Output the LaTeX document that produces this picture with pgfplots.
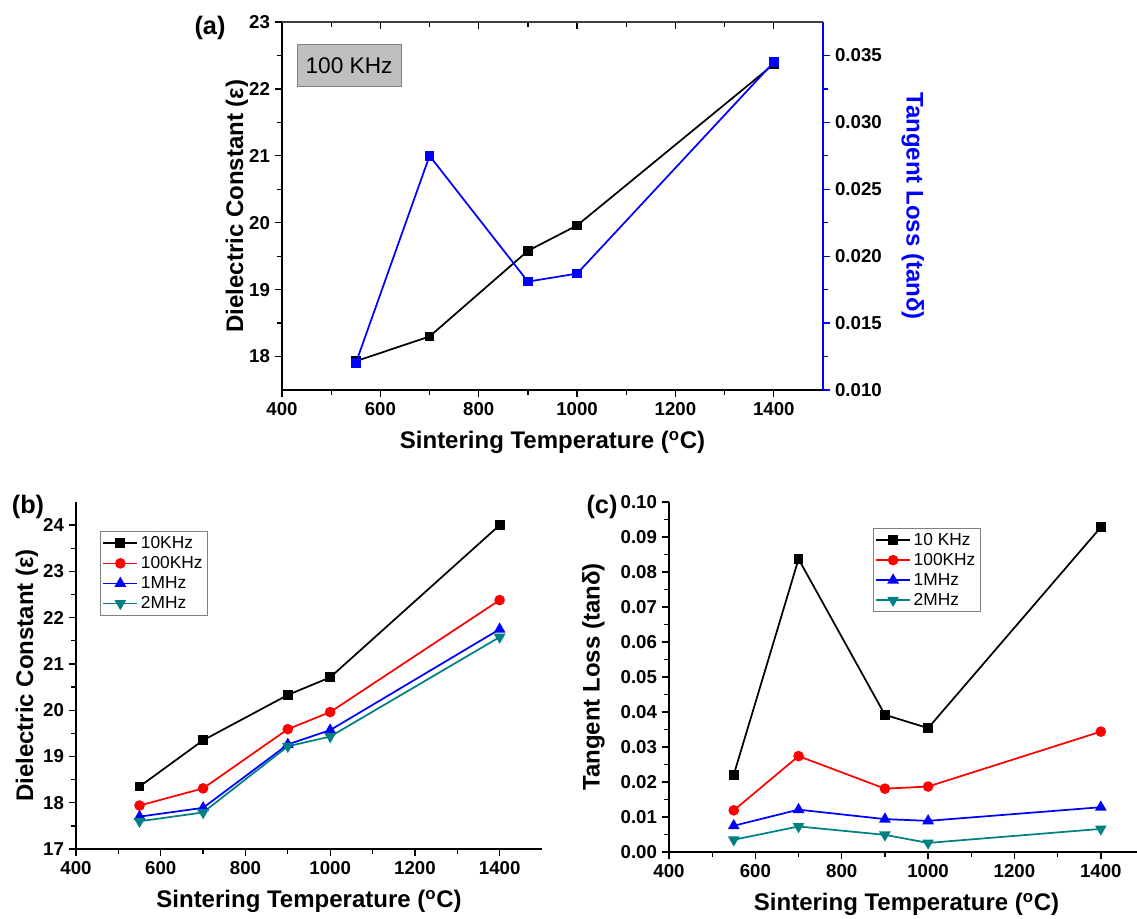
\documentclass[border=0pt]{standalone}
\usepackage{fontspec}
\setmainfont{Liberation Sans}
\usepackage{pgfplots}
\pgfplotsset{compat=1.18}
\definecolor{tealc}{RGB}{0,128,128}
\pgfplotsset{
  base/.style={
    scale only axis,
    xmin=400, xmax=1500,
    xtick={400,600,...,1400},
    minor x tick num=1,
    tick align=outside,
    /pgf/number format/assume math mode=true,
    /pgf/number format/set thousands separator={},
    ticklabel style={font=\fontsize{14}{14}\selectfont\bfseries},
    label style={font=\fontsize{18}{18}\selectfont\bfseries},
    xlabel shift=5pt,
    major tick length=5.5pt, minor tick length=3.5pt,
    every tick/.style={line width=1pt},
    axis line style={line width=1.2pt},
    every axis plot/.append style={line width=1.3pt},
    xlabel={Sintering Temperature (\textsuperscript{o}C)},
    legend style={draw=gray, line width=0.6pt, font=\fontsize{13}{14}\selectfont,
      inner sep=1.5pt, row sep=0.5pt, cells={anchor=west}, fill=white},
    legend image code/.code={
      \draw[mark repeat=2,mark phase=2] plot coordinates {(0cm,0cm) (0.45cm,0cm) (0.9cm,0cm)};
    },
  }
}
\begin{document}
\begin{tikzpicture}
% ---------------- (a) ----------------
\begin{axis}[base,
  at={(211.5pt,396pt)}, anchor=south west,
  width=405.75pt, height=276pt,
  axis x line*=bottom, axis y line*=left,
  ymin=17.5, ymax=23, ytick={18,19,20,21,22,23}, minor y tick num=1,
  ylabel={Dielectric Constant (ε)}, ylabel shift=-6pt,
]
\addplot[black, mark=square*, mark size=3pt] coordinates {
 (550,17.93) (700,18.30) (900,19.58) (1000,19.96) (1400,22.37)};
\node[draw=gray, fill=black!25, minimum width=78pt, minimum height=31pt,
  font=\fontsize{17}{17}\selectfont] at (rel axis cs:0.124,0.882) {100 KHz};
\end{axis}
\begin{axis}[base,
  at={(211.5pt,396pt)}, anchor=south west,
  width=405.75pt, height=276pt,
  axis x line=none, axis y line*=right,
  ymin=0.010, ymax=0.0375,
  ytick={0.010,0.015,0.020,0.025,0.030,0.035}, minor y tick num=1,
  yticklabel style={/pgf/number format/fixed, /pgf/number format/fixed zerofill, /pgf/number format/precision=3},
  scaled y ticks=false,
  y axis line style={blue, line width=1.2pt},
  ytick style={blue},
  ylabel={Tangent Loss (tanδ)}, ylabel shift=8pt,
  ylabel style={blue, rotate=180},
]
\addplot[blue, mark=square*, mark size=3pt] coordinates {
 (550,0.0120) (700,0.0275) (900,0.0181) (1000,0.0187) (1400,0.0345)};
\end{axis}
\begin{axis}[base,
  at={(211.5pt,396pt)}, anchor=south west,
  width=405.75pt, height=276pt,
  axis x line*=top, axis y line=none, tick align=inside,
  xticklabels={}, xlabel={}, ymin=0, ymax=1,
  axis line style={line width=1.2pt, black!75},
]
\end{axis}
% ---------------- (b) ----------------
\begin{axis}[base,
  at={(57pt,51.75pt)}, anchor=south west,
  width=349.5pt, height=260.25pt,
  axis lines*=left,
  ymin=17, ymax=24.5, ytick={17,18,...,24}, minor y tick num=1,
  ylabel={Dielectric Constant (ε)}, ylabel shift=-3pt,
  legend style={at={(0.0515,0.916)}, anchor=north west},
]
\addplot[black, mark=square*, mark size=3pt] coordinates {
 (550,18.35) (700,19.35) (900,20.33) (1000,20.71) (1400,24.00)};
\addlegendentry{10KHz}
\addplot[red, mark=*, mark size=3.3pt] coordinates {
 (550,17.94) (700,18.31) (900,19.59) (1000,19.96) (1400,22.38)};
\addlegendentry{100KHz}
\addplot[blue, mark=triangle*, mark size=3.8pt] coordinates {
 (550,17.70) (700,17.89) (900,19.26) (1000,19.57) (1400,21.75)};
\addlegendentry{1MHz}
\addplot[tealc, mark=triangle*, mark size=3.8pt, mark options={rotate=180}] coordinates {
 (550,17.60) (700,17.79) (900,19.22) (1000,19.43) (1400,21.58)};
\addlegendentry{2MHz}
\end{axis}
% ---------------- (c) ----------------
\begin{axis}[base,
  at={(501.75pt,49.5pt)}, anchor=south west,
  width=356.25pt, height=262.5pt,
  axis lines*=left,
  ymin=0, ymax=0.10, ytick={0,0.01,0.02,0.03,0.04,0.05,0.06,0.07,0.08,0.09,0.10},
  minor y tick num=1,
  yticklabel style={/pgf/number format/fixed, /pgf/number format/fixed zerofill, /pgf/number format/precision=2},
  scaled y ticks=false,
  ylabel={Tangent Loss (tanδ)}, ylabel shift=5pt,
  legend style={at={(0.429,0.926)}, anchor=north west},
]
\addplot[black, mark=square*, mark size=3pt] coordinates {
 (550,0.0221) (700,0.0837) (900,0.0392) (1000,0.0354) (1400,0.0928)};
\addlegendentry{10 KHz}
\addplot[red, mark=*, mark size=3.3pt] coordinates {
 (550,0.0119) (700,0.0274) (900,0.0181) (1000,0.0187) (1400,0.0344)};
\addlegendentry{100KHz}
\addplot[blue, mark=triangle*, mark size=3.8pt] coordinates {
 (550,0.0075) (700,0.0121) (900,0.0094) (1000,0.0089) (1400,0.0128)};
\addlegendentry{1MHz}
\addplot[tealc, mark=triangle*, mark size=3.8pt, mark options={rotate=180}] coordinates {
 (550,0.0035) (700,0.0073) (900,0.0049) (1000,0.0026) (1400,0.0066)};
\addlegendentry{2MHz}
\end{axis}
% panel labels
\node[font=\fontsize{19}{19}\selectfont\bfseries] at (157.5pt,667.5pt) {(a)};
\node[font=\fontsize{19}{19}\selectfont\bfseries] at (21pt,308.25pt) {(b)};
\node[font=\fontsize{19}{19}\selectfont\bfseries] at (451.5pt,308.25pt) {(c)};
\pgfresetboundingbox
\useasboundingbox (0pt,0pt) rectangle (852.75pt,688.5pt);
\end{tikzpicture}
\end{document}
